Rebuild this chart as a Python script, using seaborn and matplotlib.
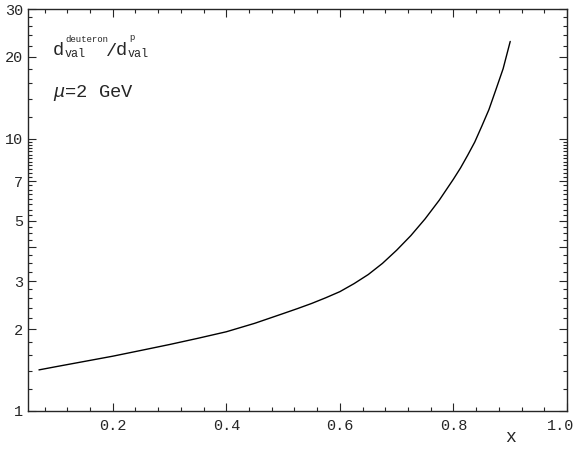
import numpy as np
import pandas as pd
import matplotlib
matplotlib.use("Agg")
import matplotlib.pyplot as plt
import matplotlib.ticker as mticker
import matplotlib.transforms as mtransforms
import seaborn as sns

# values
x_vals = [0.07, 0.10, 0.15, 0.20, 0.25, 0.30, 0.35, 0.40, 0.45, 0.50,
          0.525, 0.55, 0.575, 0.60, 0.625, 0.65, 0.675, 0.70, 0.725, 0.75,
          0.775, 0.80, 0.8125, 0.825, 0.8375, 0.85, 0.8625, 0.875, 0.8875, 0.90]
ratio_vals = [1.416, 1.455, 1.521, 1.590, 1.670, 1.755, 1.850, 1.955, 2.100, 2.280,
              2.377, 2.483, 2.606, 2.745, 2.938, 3.173, 3.487, 3.898, 4.411, 5.079,
              5.950, 7.112, 7.82, 8.70, 9.73, 11.14, 12.81, 15.21, 18.1, 22.8]

y_major = [1, 2, 3, 4, 5, 7, 10, 20, 30]
y_labels = ["1", "2", "3", "", "5", "7", "10", "20", "30"]
x_major = [0.2, 0.4, 0.6, 0.8, 1.0]
x_labels = ["0.2", "0.4", "0.6", "0.8", "1.0"]

df = pd.DataFrame({"x": x_vals, "ratio": ratio_vals})

sns.set_style("ticks")
plt.rcParams["font.family"] = ["Liberation Mono", "DejaVu Sans Mono"]
plt.rcParams["mathtext.fontset"] = "custom"
plt.rcParams["mathtext.rm"] = "Liberation Mono"
plt.rcParams["mathtext.it"] = "Liberation Mono:italic"

W, H = 577, 449
fig = plt.figure(figsize=(W / 100, H / 100), dpi=100)
ax = fig.add_axes([27.6 / W, 38 / H, 539.4 / W, 402 / H])

sns.lineplot(data=df, x="x", y="ratio", color="black", linewidth=1.0, ax=ax)

ax.set_yscale("log")
ax.set_xlim(0.05, 1.0)
ax.set_ylim(1, 30)

ax.yaxis.set_major_locator(mticker.FixedLocator(y_major))
ax.yaxis.set_major_formatter(mticker.FixedFormatter(y_labels))
y_minor = (list(np.arange(1.2, 2.0, 0.2)) + list(np.arange(2.2, 3.0, 0.2))
           + list(np.arange(3.25, 7.0, 0.25)) + list(np.arange(7.25, 10.0, 0.25))
           + [12, 14, 16, 18, 22, 24, 26, 28])
ax.yaxis.set_minor_locator(mticker.FixedLocator(y_minor))
ax.yaxis.set_minor_formatter(mticker.NullFormatter())

ax.xaxis.set_major_locator(mticker.FixedLocator(x_major))
ax.xaxis.set_major_formatter(mticker.FixedFormatter(x_labels))
ax.xaxis.set_minor_locator(mticker.MultipleLocator(0.04))

ax.tick_params(which="both", direction="in", top=True, right=True,
               labelsize=11, width=0.8)
ax.tick_params(axis="y", pad=3)
ax.tick_params(axis="x", pad=6)
ax.tick_params(which="major", length=6)
ax.tick_params(which="minor", length=3)
for s in ax.spines.values():
    s.set_linewidth(1.0)

# keep the last x label inside the picture
fig.canvas.draw()
last = ax.get_xticklabels()[-1]
last.set_transform(last.get_transform()
                   + mtransforms.ScaledTranslation(-6 / 100, 0, fig.dpi_scale_trans))

ax.set_xlabel("")
ax.set_ylabel("")
ax.text(0.9, -0.066, "x", transform=ax.get_xaxis_transform(), ha="center",
        va="center", fontsize=13)


def px_text(x, y, s, size, **kw):
    fig.text(x / W, 1 - y / H, s, fontsize=size, ha="left", va="baseline", **kw)


# d_val^deuteron / d_val^p
px_text(53, 55, "d", 13.5)
px_text(65, 57, "val", 8.5)
px_text(65, 42, "deuteron", 6.5)
px_text(106, 56, "/", 13.5)
px_text(116, 55, "d", 13.5)
px_text(128, 57, "val", 8.5)
px_text(129, 40, "p", 6.5)

ax.text(0.047, 0.79, r"$\mu$=2 GeV", transform=ax.transAxes, fontsize=13.5,
        va="center", ha="left")

fig.savefig("out.png", dpi=100)
